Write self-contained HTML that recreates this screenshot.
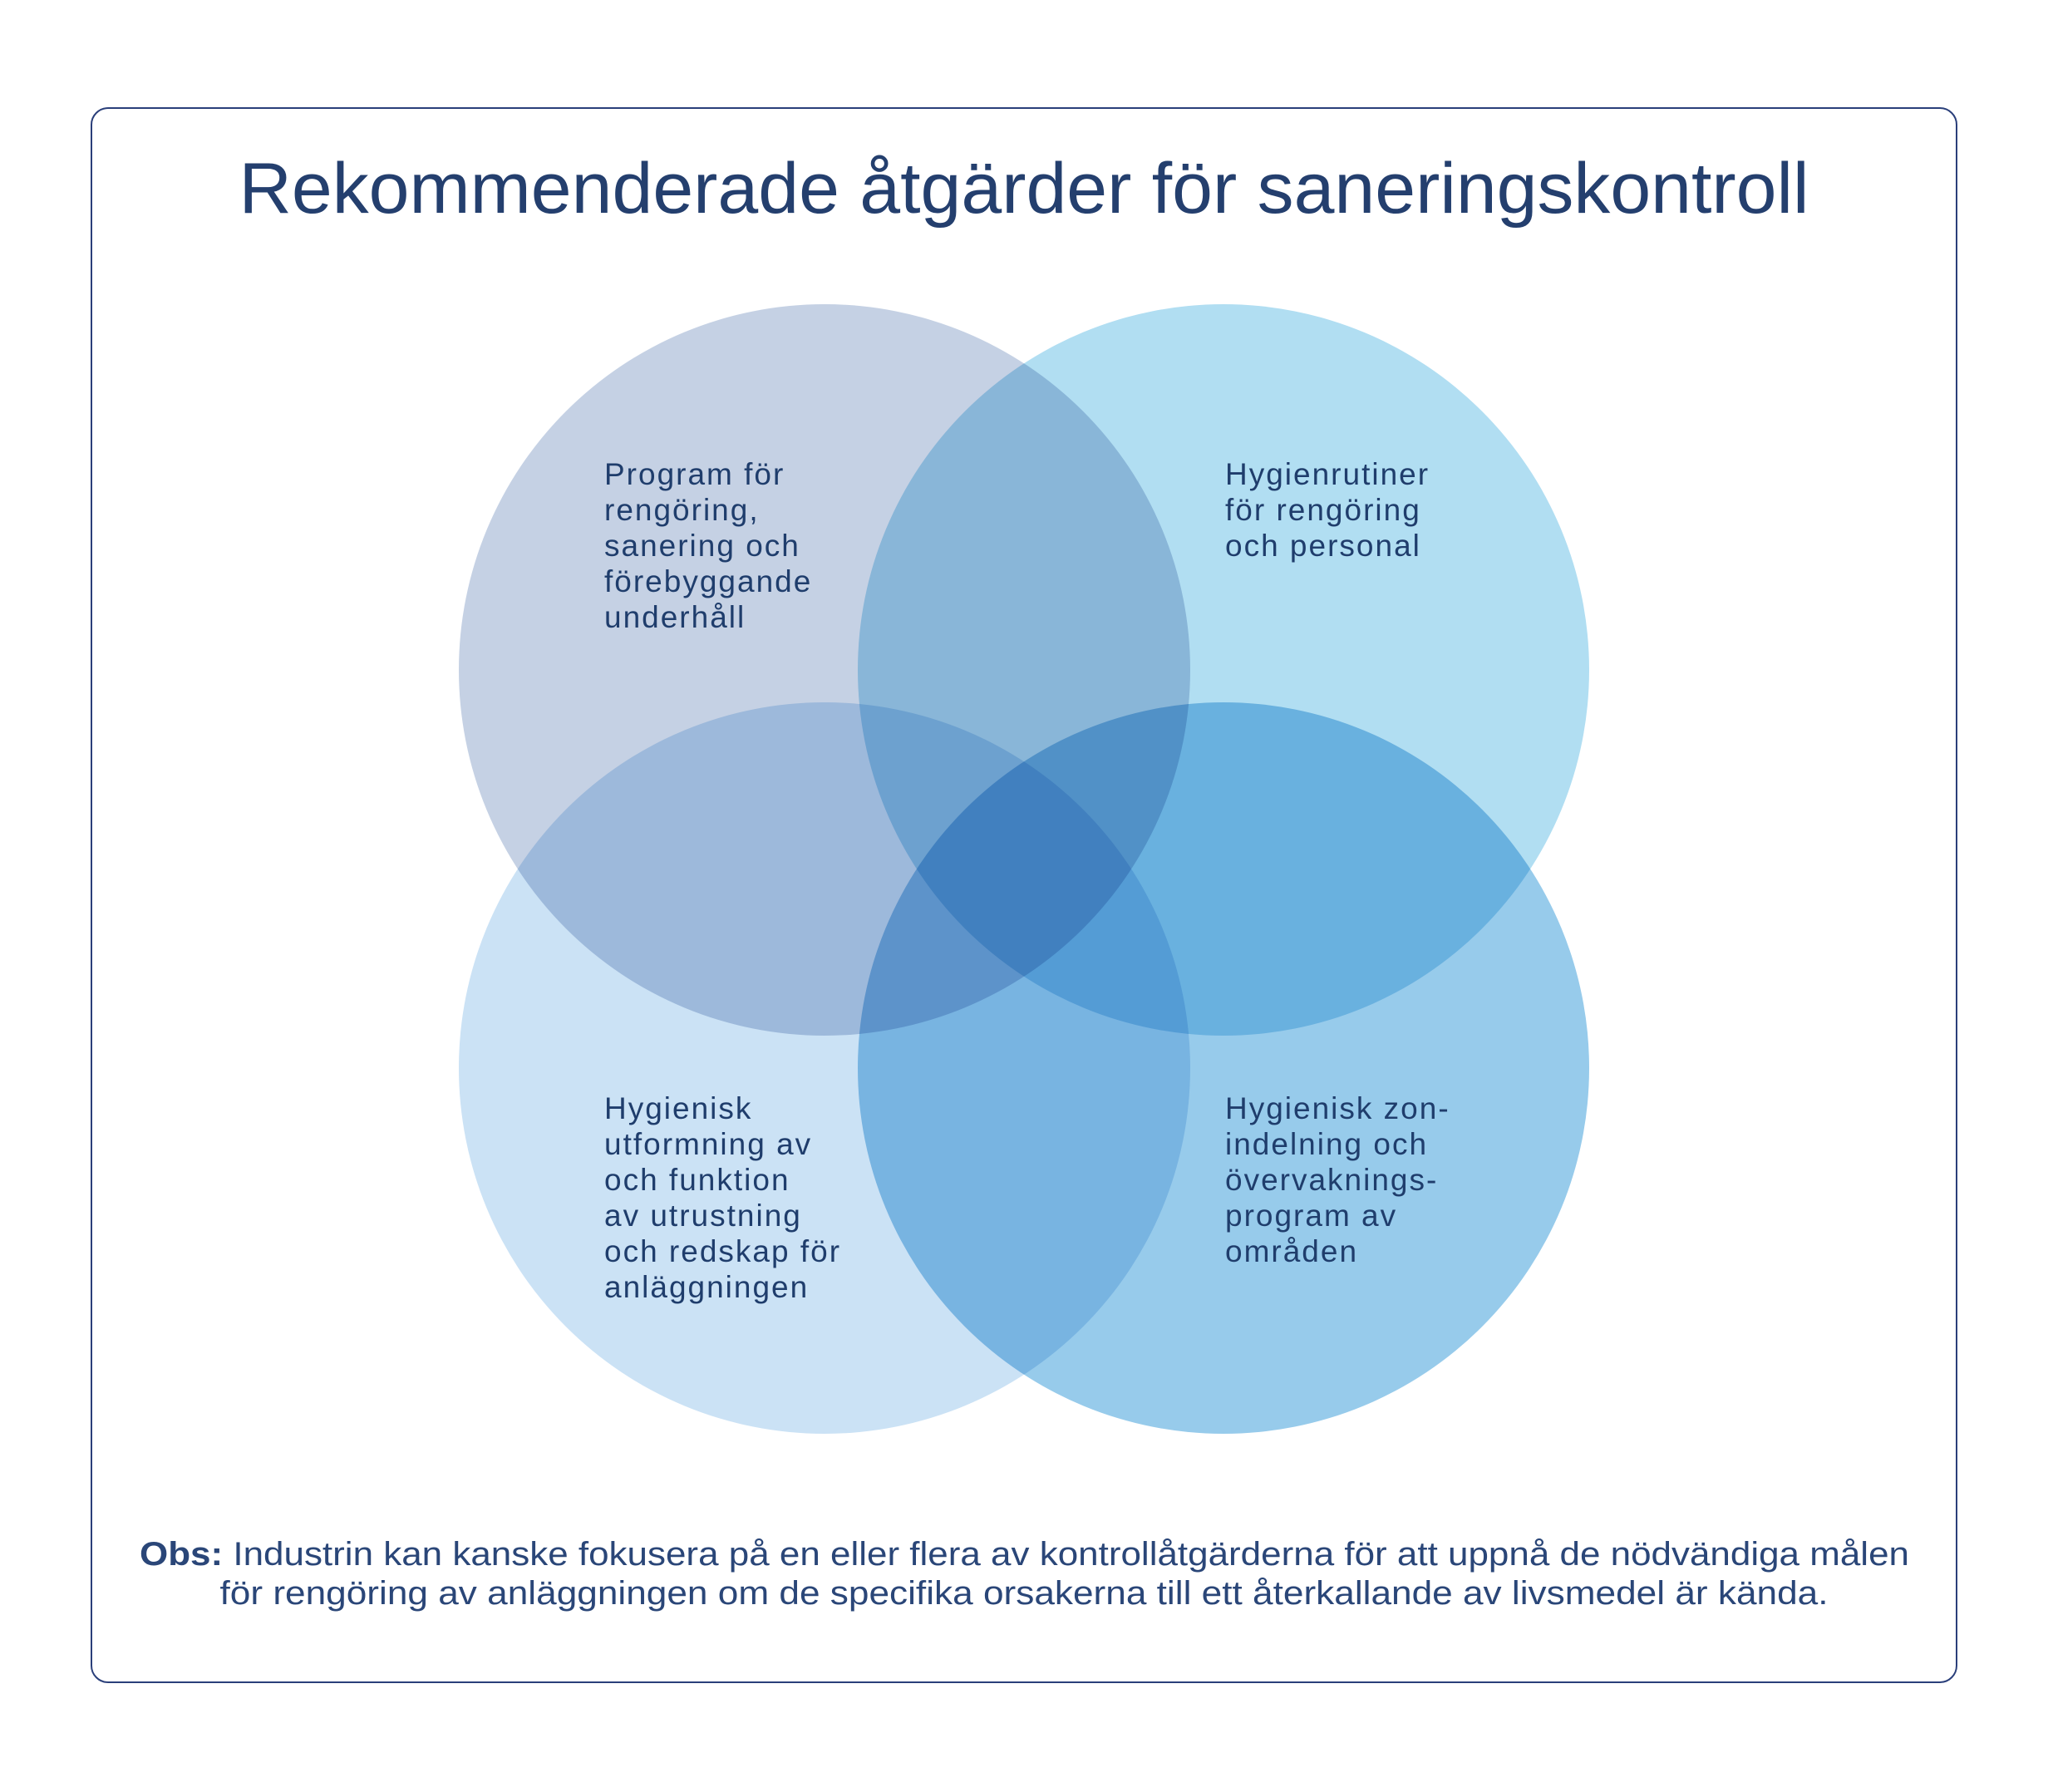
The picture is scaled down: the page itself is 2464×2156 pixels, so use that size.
<!DOCTYPE html>
<html><head><meta charset="utf-8"><style>
html,body{margin:0;padding:0;background:#fff;}
svg{display:block;}
text{font-family:"Liberation Sans",sans-serif;fill:#1f3d6c;}
.c{mix-blend-mode:multiply;}
</style></head><body>
<svg width="2464" height="2156" viewBox="0 0 2464 2156" xmlns="http://www.w3.org/2000/svg">
<rect x="110" y="130" width="2244" height="1894" rx="20" ry="20" fill="#fff" stroke="#2a3f7a" stroke-width="2"/>
<text x="1232" y="256" font-size="86" text-anchor="middle" textLength="1889" lengthAdjust="spacingAndGlyphs" style="fill:#243f6e">Rekommenderade åtgärder för saneringskontroll</text>
<g style="isolation:isolate">
<circle class="c" cx="992" cy="806" r="440" fill="#c5d1e4"/>
<circle class="c" cx="1472" cy="806" r="440" fill="#b1def2"/>
<circle class="c" cx="992" cy="1285" r="440" fill="#cbe2f5"/>
<circle class="c" cx="1472" cy="1285" r="440" fill="#97cbeb"/>
</g>
<g font-size="37" letter-spacing="2">
<text x="727" y="583">Program för</text>
<text x="727" y="626">rengöring,</text>
<text x="727" y="669">sanering och</text>
<text x="727" y="712">förebyggande</text>
<text x="727" y="755">underhåll</text>
<text x="1474" y="583">Hygienrutiner</text>
<text x="1474" y="626">för rengöring</text>
<text x="1474" y="669">och personal</text>
<text x="727" y="1346">Hygienisk</text>
<text x="727" y="1389">utformning av</text>
<text x="727" y="1432">och funktion</text>
<text x="727" y="1475">av utrustning</text>
<text x="727" y="1518">och redskap för</text>
<text x="727" y="1561">anläggningen</text>
<text x="1474" y="1346">Hygienisk zon-</text>
<text x="1474" y="1389">indelning och</text>
<text x="1474" y="1432">övervaknings-</text>
<text x="1474" y="1475">program av</text>
<text x="1474" y="1518">områden</text>
</g>
<text x="168" y="1883" font-size="40" textLength="2129" lengthAdjust="spacingAndGlyphs" style="fill:#2a4678"><tspan font-weight="bold">Obs:</tspan> Industrin kan kanske fokusera på en eller flera av kontrollåtgärderna för att uppnå de nödvändiga målen</text>
<text x="1232" y="1930" font-size="40" text-anchor="middle" textLength="1935" lengthAdjust="spacingAndGlyphs" style="fill:#2a4678">för rengöring av anläggningen om de specifika orsakerna till ett återkallande av livsmedel är kända.</text>
</svg>
</body></html>
